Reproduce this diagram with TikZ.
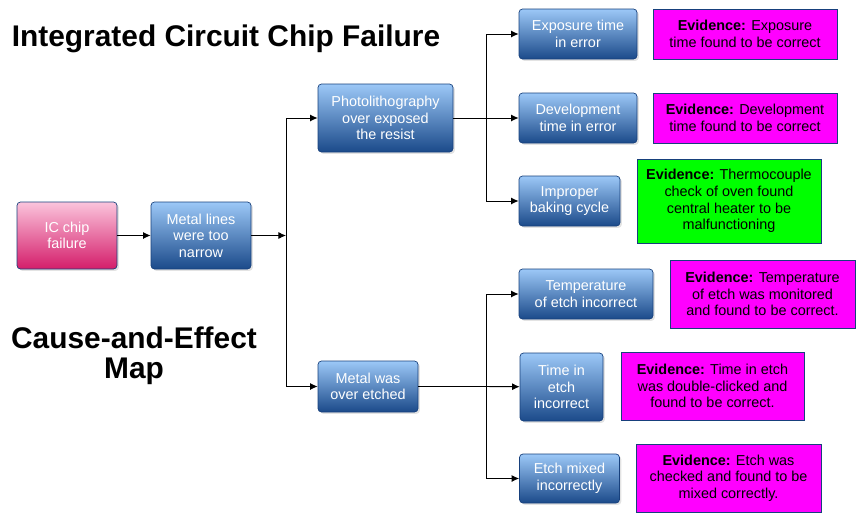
\documentclass[tikz,border=0pt]{standalone}
\usepackage{fontspec}
\setmainfont{Liberation Sans}
\usetikzlibrary{arrows.meta,positioning,shadows}
\definecolor{BT}{HTML}{9CC8F7}
\definecolor{BM}{HTML}{3B7BCB}
\definecolor{BB}{HTML}{1B4A8A}
\definecolor{PT}{HTML}{FBC4DC}
\definecolor{PM}{HTML}{EA6FA1}
\definecolor{PB}{HTML}{D41D6A}
\definecolor{ED}{HTML}{17407C}
\definecolor{EV}{HTML}{FF00FF}
\definecolor{OK}{HTML}{00FF00}
\tikzset{
  sz/.style 2 args={minimum width=#1*0.03cm, minimum height=#2*0.03cm},
  cause/.style={rounded corners=3pt, draw=ED, line width=0.6pt,
    top color=BT, middle color=BM, bottom color=BB, text=white,
    align=center, inner sep=0pt,
    font=\fontsize{12.3}{14.2}\selectfont,
    drop shadow={shadow xshift=1.6pt, shadow yshift=-1.6pt, opacity=0.22}},
  root/.style={cause, top color=PT, middle color=PM, bottom color=PB},
  evid/.style={draw=ED, line width=0.7pt, fill=EV, text=black,
    align=center, inner sep=0pt,
    font=\fontsize{12.3}{14.2}\selectfont},
  heading/.style={font=\bfseries\fontsize{25.5}{25.6}\selectfont, align=center, inner sep=0pt},
  link/.style={line width=0.8pt, -{Latex[length=6.5pt,width=6pt]}},
  wire/.style={line width=0.8pt}
}
\begin{document}
\begin{tikzpicture}[x=0.03cm, y=-0.03cm]
  \useasboundingbox (0,0) rectangle (862,520);
  \node[heading, anchor=base] (head) at (226,46.7) {Integrated Circuit Chip Failure};
  \node[heading] (kind) at (134,356) {Cause-and-Effect\\Map};

  \node[root, sz={100}{67}] (chip) at (67,235.5) {IC chip\\failure};
  \node[cause, sz={100}{67}] (lines) at (201,235.5) {Metal lines\\were too\\narrow};
  \node[cause, sz={135}{68}] (photo) at (385.5,118) {Photolithography\\over exposed\\the resist};
  \node[cause, sz={100}{51}] (etched) at (368,386.5) {Metal was\\over etched};

  \node[cause, sz={118}{50}] (expo) at (578,34) {Exposure time\\in error};
  \node[cause, sz={118}{50}] (devel) at (578,118) {Development\\time in error};
  \node[cause, sz={101}{50}] (bake) at (569.5,201) {Improper\\baking cycle};
  \node[cause, sz={134}{50}] (temp) at (586,294) {Temperature\\of etch incorrect};
  \node[cause, sz={83}{68}] (etchtime) at (561.5,387) {Time in\\etch\\incorrect};
  \node[cause, sz={100}{49}] (mixed) at (569.5,478.5) {Etch mixed\\incorrectly};

  \node[evid, sz={184}{50}] (evexpo) at (745,34) {\textbf{Evidence:} Exposure\\time found to be correct};
  \node[evid, sz={184}{50}] (evdevel) at (745,118) {\textbf{Evidence:} Development\\time found to be correct};
  \node[evid, sz={184}{84}, fill=OK] (evbake) at (729,201) {\textbf{Evidence:} Thermocouple\\check of oven found\\central heater to be\\malfunctioning};
  \node[evid, sz={185}{68}] (evtemp) at (762.5,294) {\textbf{Evidence:} Temperature\\of etch was monitored\\and found to be correct.};
  \node[evid, sz={183}{68}] (evtime) at (712.5,386) {\textbf{Evidence:} Time in etch\\was double-clicked and\\found to be correct.};
  \node[evid, sz={185}{68}] (evmixed) at (728.5,478) {\textbf{Evidence:} Etch was\\checked and found to be\\mixed correctly.};

  \coordinate (j1) at (286,235.5);
  \coordinate (j2) at (486,118);
  \coordinate (j3) at (486,386.5);

  \draw[link] (chip) -- (lines);
  \draw[link] (lines) -- (j1);
  \draw[link] (j1) |- (photo);
  \draw[link] (j1) |- (etched);
  \draw[wire] (photo) -- (j2);
  \draw[link] (j2) |- (expo);
  \draw[link] (j2) -- (devel);
  \draw[link] (j2) |- (bake);
  \draw[wire] (etched) -- (j3);
  \draw[link] (j3) |- (temp);
  \draw[link] (j3) -- (etchtime);
  \draw[link] (j3) |- (mixed);
\end{tikzpicture}
\end{document}
